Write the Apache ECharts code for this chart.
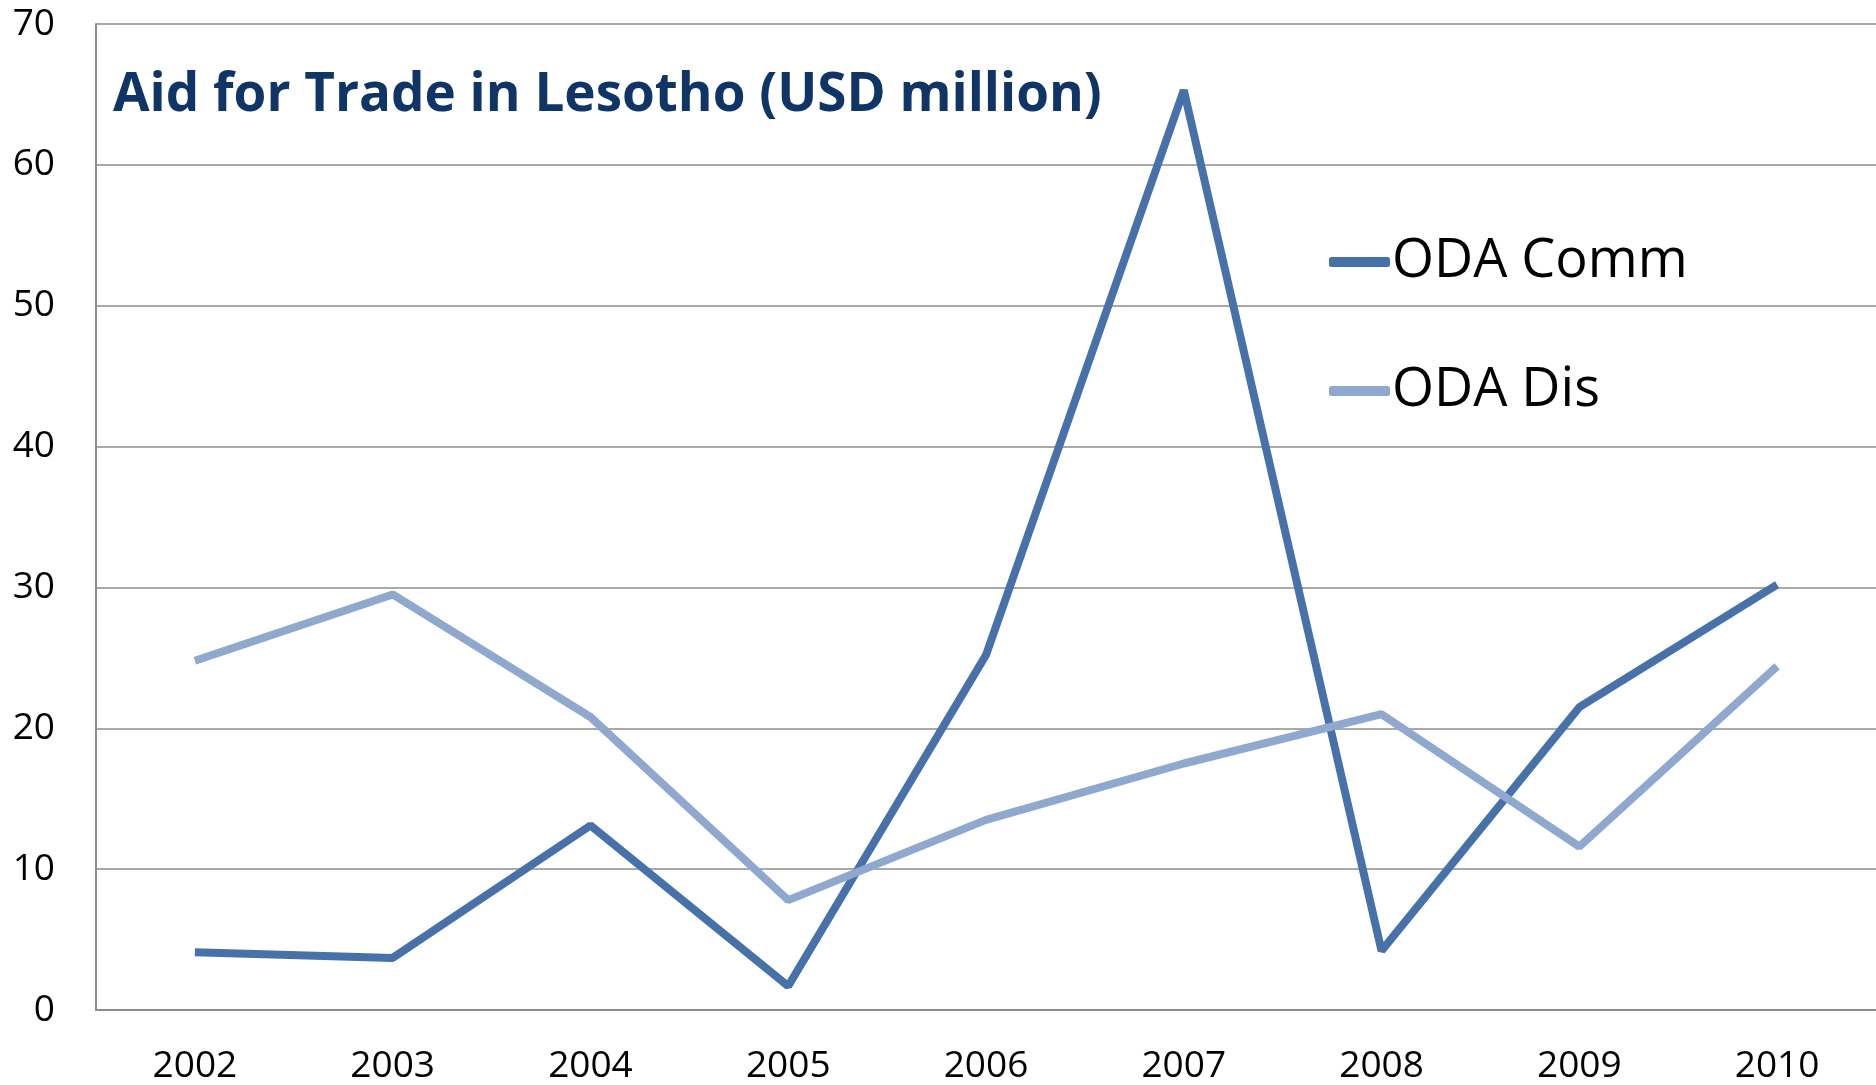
<!DOCTYPE html>
<html>
<head>
<meta charset="utf-8">
<script src="https://cdn.jsdelivr.net/npm/echarts@6/dist/echarts.min.js"></script>
<style>html,body{margin:0;padding:0;background:#fff}#c{width:1876px;height:1085px}</style>
</head>
<body>
<div id="c"></div>
<script>
const years = ['2002','2003','2004','2005','2006','2007','2008','2009','2010'];
const odaComm = [4.1, 3.7, 13.1, 1.7, 25.2, 65.3, 4.2, 21.5, 30.2];
const odaDis = [24.8, 29.5, 20.8, 7.8, 13.5, 17.5, 21.0, 11.6, 24.4];
const yTicks = [0, 10, 20, 30, 40, 50, 60, 70];

const FONT = '"Open Sans", "Liberation Sans", sans-serif';
const chart = echarts.init(document.getElementById('c'));
chart.setOption({
  animation: false,
  backgroundColor: '#ffffff',
  title: {
    text: 'Aid for Trade in Lesotho (USD million)',
    left: 108, top: 64,
    textStyle: { color: '#0F3566', fontSize: 53, fontWeight: 'bold', fontFamily: FONT }
  },
  legend: {
    orient: 'vertical',
    left: 1324, top: 227,
    itemWidth: 61, itemHeight: 10, itemGap: 69,
    icon: 'roundRect',
    textStyle: { fontSize: 54, color: '#000', fontFamily: FONT, lineHeight: 60, padding: [0,0,0,-3] },
    data: ['ODA Comm', 'ODA Dis']
  },
  grid: { left: 96, right: 0, top: 24, bottom: 74, containLabel: false },
  xAxis: {
    type: 'category',
    data: years,
    boundaryGap: true,
    axisLine: { lineStyle: { color: '#8c8c8c', width: 2 } },
    axisTick: { show: false },
    axisLabel: { color: '#000', fontSize: 37, fontFamily: FONT, margin: 38 }
  },
  yAxis: {
    type: 'value',
    min: 0, max: 70, interval: 10,
    axisLine: { show: true, lineStyle: { color: '#8c8c8c', width: 2 } },
    axisTick: { show: false },
    splitLine: { lineStyle: { color: '#8c8c8c', width: 1.5 } },
    axisLabel: { color: '#000', fontSize: 37, fontFamily: FONT, margin: 41,
      customValues: yTicks }
  },
  series: [
    { name: 'ODA Comm', type: 'line', data: odaComm, showSymbol: false, symbol: 'none',
      lineStyle: { color: '#4671A9', width: 8 }, itemStyle: { color: '#4671A9' } },
    { name: 'ODA Dis', type: 'line', data: odaDis, showSymbol: false, symbol: 'none',
      lineStyle: { color: '#8FA8CE', width: 8 }, itemStyle: { color: '#8FA8CE' } }
  ]
});
</script>
</body>
</html>
